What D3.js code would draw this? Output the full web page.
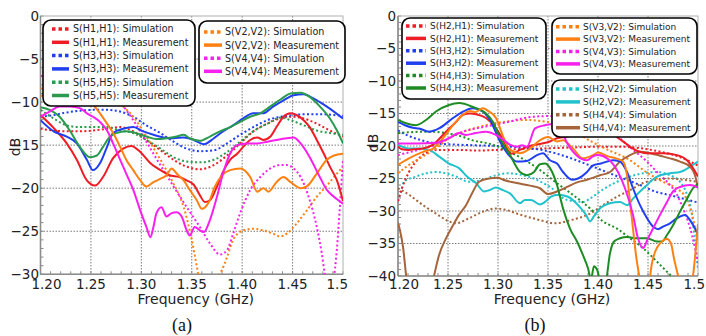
<!DOCTYPE html>
<html><head><meta charset="utf-8">
<script src="https://cdn.jsdelivr.net/npm/d3@7"></script>
<style>body{margin:0;background:#fff}svg{display:block}</style>
</head><body><svg id="c" width="706" height="336"></svg>
<script>
// ---------- tick labels ----------
const xTicks = [1.20, 1.25, 1.30, 1.35, 1.40, 1.45, 1.50];
const xTickLabels = ["1.20", "1.25", "1.30", "1.35", "1.40", "1.45", "1.5"];
const yTicksA = [0, -5, -10, -15, -20, -25, -30];
const yTicksB = [0, -5, -10, -15, -20, -25, -30, -35, -40];

// ---------- panel (a) data: [GHz, dB] ----------
const a_H1H1_sim = [[1.200,-13.1],[1.213,-13.3],[1.226,-13.4],[1.239,-13.4],[1.252,-13.3],[1.266,-13.1],[1.279,-12.9],[1.292,-13.4],[1.305,-14.4],[1.319,-15.6],[1.332,-16.7],[1.345,-17.5],[1.358,-17.8],[1.372,-17.3],[1.385,-16.2],[1.398,-14.8],[1.411,-13.4],[1.425,-12.5],[1.438,-11.9],[1.448,-11.7],[1.461,-11.9],[1.474,-12.5],[1.487,-13.3],[1.500,-14.0]];
const a_H1H1_meas = [[1.200,-11.5],[1.213,-13.0],[1.226,-14.8],[1.236,-16.7],[1.246,-19.1],[1.254,-19.7],[1.262,-18.7],[1.272,-16.5],[1.282,-15.4],[1.290,-15.1],[1.299,-15.8],[1.309,-17.1],[1.319,-17.9],[1.328,-18.5],[1.338,-18.7],[1.345,-19.1],[1.352,-19.6],[1.358,-20.8],[1.363,-21.6],[1.368,-21.4],[1.375,-19.8],[1.381,-18.1],[1.388,-16.7],[1.395,-16.0],[1.401,-15.2],[1.408,-14.4],[1.415,-14.1],[1.421,-14.4],[1.428,-14.0],[1.434,-12.9],[1.441,-11.7],[1.448,-11.3],[1.454,-11.5],[1.461,-12.1],[1.467,-12.9],[1.474,-14.4],[1.481,-16.0],[1.487,-17.5],[1.494,-19.1],[1.500,-21.5]];
const a_H3H3_sim = [[1.200,-11.7],[1.213,-11.5],[1.226,-11.2],[1.239,-11.0],[1.252,-10.9],[1.266,-10.9],[1.279,-11.1],[1.292,-11.7],[1.305,-12.7],[1.319,-13.6],[1.332,-14.6],[1.345,-15.4],[1.358,-15.7],[1.372,-15.6],[1.385,-14.8],[1.398,-13.8],[1.411,-12.9],[1.425,-12.1],[1.438,-11.7],[1.451,-11.5],[1.464,-11.4],[1.477,-11.4],[1.491,-11.5],[1.500,-11.6]];
const a_H3H3_meas = [[1.200,-12.1],[1.213,-13.4],[1.226,-14.0],[1.236,-14.8],[1.246,-16.7],[1.252,-17.9],[1.259,-17.1],[1.266,-15.2],[1.272,-13.6],[1.282,-13.1],[1.292,-12.9],[1.302,-13.4],[1.312,-13.8],[1.322,-14.1],[1.332,-14.2],[1.342,-14.1],[1.352,-14.4],[1.362,-14.9],[1.372,-14.2],[1.381,-13.4],[1.391,-12.7],[1.401,-11.9],[1.411,-11.3],[1.421,-11.3],[1.431,-10.5],[1.441,-9.8],[1.451,-9.2],[1.461,-9.1],[1.471,-9.6],[1.481,-10.3],[1.491,-11.1],[1.500,-11.9]];
const a_H5H5_sim = [[1.200,-10.9],[1.213,-11.9],[1.226,-12.7],[1.239,-12.9],[1.252,-12.9],[1.266,-12.9],[1.279,-13.3],[1.292,-13.6],[1.305,-14.4],[1.319,-15.4],[1.332,-16.4],[1.345,-16.9],[1.358,-17.0],[1.372,-16.7],[1.385,-15.8],[1.398,-14.6],[1.411,-13.4],[1.425,-12.5],[1.438,-11.8],[1.448,-12.1],[1.461,-12.7],[1.474,-13.3],[1.487,-13.6],[1.500,-13.8]];
const a_H5H5_meas = [[1.200,-10.6],[1.209,-10.9],[1.219,-11.7],[1.229,-13.3],[1.239,-15.2],[1.249,-16.4],[1.256,-16.2],[1.262,-15.2],[1.269,-14.0],[1.275,-13.6],[1.285,-13.4],[1.295,-13.6],[1.305,-14.0],[1.315,-14.3],[1.325,-14.2],[1.335,-14.0],[1.342,-13.8],[1.348,-14.2],[1.358,-14.5],[1.368,-14.0],[1.378,-13.4],[1.388,-12.9],[1.398,-12.3],[1.408,-11.7],[1.418,-11.3],[1.428,-10.5],[1.438,-9.7],[1.448,-9.0],[1.458,-8.9],[1.467,-9.4],[1.477,-10.5],[1.487,-11.9],[1.494,-13.3],[1.500,-14.8]];
const a_V2V2_sim = [[1.200,-8.5],[1.220,-7.5],[1.240,-7.5],[1.260,-8.5],[1.275,-9.8],[1.282,-10.5],[1.292,-11.7],[1.305,-14.0],[1.319,-16.7],[1.332,-19.5],[1.342,-22.2],[1.350,-26.0],[1.355,-29.1],[1.358,-31.0],[1.362,-33.0],[1.368,-33.0],[1.375,-30.5],[1.380,-29.5],[1.385,-28.0],[1.391,-26.0],[1.401,-24.9],[1.411,-24.7],[1.421,-24.9],[1.431,-25.3],[1.438,-25.6],[1.444,-25.3],[1.454,-24.1],[1.464,-22.6],[1.474,-21.0],[1.484,-19.7],[1.494,-18.3],[1.500,-17.5]];
const a_V2V2_meas = [[1.200,-9.3],[1.220,-8.7],[1.235,-9.0],[1.245,-9.7],[1.252,-10.3],[1.259,-11.3],[1.266,-12.5],[1.272,-13.6],[1.279,-15.2],[1.285,-16.7],[1.292,-17.9],[1.299,-19.1],[1.305,-19.8],[1.312,-19.3],[1.319,-18.9],[1.325,-18.5],[1.330,-17.7],[1.335,-18.3],[1.342,-19.1],[1.348,-20.2],[1.355,-21.4],[1.360,-22.4],[1.367,-21.6],[1.373,-19.8],[1.380,-18.5],[1.388,-17.9],[1.398,-17.7],[1.408,-18.7],[1.415,-20.4],[1.421,-20.0],[1.426,-20.4],[1.434,-19.3],[1.441,-18.7],[1.448,-19.3],[1.458,-20.0],[1.464,-19.8],[1.474,-18.3],[1.484,-16.7],[1.491,-16.2],[1.500,-16.0]];
const a_V4V4_sim = [[1.200,-7.0],[1.230,-6.5],[1.260,-8.0],[1.275,-9.7],[1.282,-10.5],[1.292,-12.1],[1.302,-14.0],[1.312,-16.0],[1.322,-17.9],[1.332,-19.8],[1.345,-22.2],[1.358,-24.5],[1.368,-26.4],[1.378,-27.7],[1.385,-27.2],[1.391,-25.3],[1.398,-22.9],[1.408,-20.2],[1.418,-18.7],[1.428,-17.7],[1.438,-17.3],[1.444,-17.3],[1.451,-17.7],[1.458,-18.7],[1.467,-21.4],[1.474,-24.5],[1.479,-27.6],[1.482,-30.0],[1.486,-32.0],[1.490,-31.0],[1.494,-27.0],[1.497,-22.0],[1.500,-16.7]];
const a_V4V4_meas = [[1.200,-11.7],[1.209,-11.1],[1.219,-10.5],[1.229,-10.5],[1.239,-10.7],[1.246,-11.3],[1.252,-11.7],[1.259,-12.3],[1.266,-13.3],[1.272,-14.8],[1.279,-16.7],[1.285,-18.3],[1.292,-20.2],[1.299,-22.6],[1.305,-24.5],[1.309,-25.7],[1.312,-24.5],[1.315,-22.9],[1.320,-22.2],[1.325,-23.3],[1.330,-22.9],[1.335,-22.8],[1.340,-23.3],[1.345,-24.9],[1.348,-25.5],[1.353,-24.5],[1.358,-24.9],[1.362,-25.1],[1.368,-23.7],[1.375,-21.0],[1.381,-18.3],[1.388,-16.0],[1.395,-15.0],[1.405,-14.8],[1.415,-14.8],[1.425,-14.6],[1.434,-14.4],[1.444,-14.2],[1.451,-14.1],[1.458,-14.8],[1.467,-16.4],[1.477,-18.7],[1.484,-20.2],[1.491,-21.0],[1.500,-21.8]];

// ---------- panel (b) data: [GHz, dB] ----------
const b_H2H1_sim = [[1.200,-28.5],[1.204,-26.5],[1.211,-24.0],[1.218,-22.4],[1.228,-21.1],[1.241,-20.6],[1.260,-20.6],[1.280,-20.7],[1.300,-20.6],[1.320,-20.5],[1.340,-20.4],[1.360,-20.3],[1.380,-20.2],[1.400,-20.1],[1.420,-20.1],[1.440,-20.3],[1.460,-20.8],[1.480,-21.6],[1.500,-23.0]];
const b_H2H1_meas = [[1.200,-20.1],[1.204,-20.5],[1.211,-20.6],[1.216,-20.5],[1.225,-20.4],[1.235,-19.8],[1.248,-17.8],[1.258,-16.3],[1.265,-15.2],[1.272,-15.0],[1.278,-15.1],[1.288,-15.7],[1.298,-17.3],[1.305,-19.0],[1.313,-21.2],[1.322,-20.6],[1.332,-20.0],[1.342,-19.7],[1.352,-19.3],[1.359,-18.8],[1.368,-18.6],[1.380,-18.2],[1.400,-17.8],[1.415,-18.3],[1.425,-19.3],[1.435,-20.4],[1.449,-21.1],[1.465,-21.1],[1.479,-21.4],[1.489,-22.2],[1.495,-23.4],[1.500,-24.7]];
const b_H3H2_sim = [[1.200,-17.6],[1.210,-18.4],[1.223,-19.1],[1.238,-19.6],[1.260,-19.8],[1.280,-19.9],[1.300,-20.0],[1.320,-20.2],[1.340,-20.5],[1.357,-21.1],[1.375,-22.0],[1.392,-23.0],[1.410,-24.1],[1.425,-25.0],[1.442,-26.0],[1.457,-27.0],[1.473,-27.6],[1.490,-28.3],[1.500,-28.7]];
const b_H3H2_meas = [[1.200,-16.3],[1.207,-16.8],[1.215,-17.2],[1.221,-17.3],[1.231,-17.8],[1.241,-17.3],[1.255,-15.7],[1.265,-14.7],[1.275,-14.2],[1.285,-14.7],[1.292,-16.0],[1.302,-19.3],[1.312,-21.6],[1.319,-22.4],[1.329,-22.3],[1.339,-21.4],[1.345,-21.1],[1.352,-22.2],[1.359,-22.7],[1.365,-24.0],[1.374,-25.2],[1.380,-25.0],[1.389,-24.0],[1.395,-23.0],[1.403,-22.7],[1.415,-22.2],[1.422,-22.4],[1.429,-24.0],[1.435,-26.5],[1.442,-29.1],[1.449,-31.1],[1.455,-32.4],[1.460,-32.8],[1.465,-32.4],[1.472,-31.9],[1.479,-31.1],[1.487,-30.6],[1.492,-31.4],[1.497,-32.7],[1.500,-33.7]];
const b_H4H3_sim = [[1.200,-18.0],[1.210,-17.9],[1.224,-17.8],[1.235,-17.8],[1.247,-18.0],[1.265,-18.6],[1.274,-19.1],[1.290,-19.6],[1.300,-20.1],[1.307,-20.6],[1.324,-21.9],[1.342,-23.7],[1.357,-25.5],[1.373,-27.3],[1.392,-29.6],[1.405,-31.6],[1.419,-32.7],[1.432,-34.2],[1.445,-35.7],[1.459,-37.8],[1.472,-39.8],[1.490,-42.5],[1.500,-44.0]];
const b_H4H3_meas = [[1.200,-16.0],[1.208,-16.5],[1.218,-16.8],[1.228,-16.0],[1.238,-14.7],[1.251,-13.7],[1.261,-13.4],[1.275,-14.0],[1.288,-15.0],[1.295,-16.3],[1.302,-18.8],[1.312,-21.4],[1.322,-24.0],[1.329,-24.5],[1.336,-24.0],[1.342,-22.8],[1.347,-22.7],[1.352,-23.4],[1.359,-26.0],[1.365,-29.6],[1.372,-32.7],[1.379,-34.7],[1.385,-36.8],[1.390,-38.8],[1.393,-40.5],[1.396,-38.5],[1.399,-39.0],[1.403,-41.0],[1.408,-40.5],[1.412,-36.5],[1.416,-34.7],[1.422,-34.2],[1.429,-34.0],[1.439,-34.2],[1.449,-34.2],[1.459,-34.7],[1.464,-34.7],[1.469,-33.7],[1.475,-32.2],[1.482,-30.1],[1.489,-28.1],[1.495,-26.5],[1.500,-25.8]];
const b_V3V2_sim = [[1.200,-24.2],[1.211,-22.9],[1.225,-21.6],[1.238,-20.4],[1.251,-18.8],[1.265,-17.8],[1.278,-17.2],[1.291,-16.7],[1.310,-16.2],[1.330,-16.0],[1.345,-16.2],[1.360,-16.6],[1.375,-17.6],[1.392,-19.2],[1.410,-20.6],[1.430,-22.0],[1.450,-24.2],[1.465,-25.5],[1.478,-26.5],[1.488,-28.0],[1.494,-30.5],[1.500,-35.0]];
const b_V3V2_meas = [[1.200,-22.9],[1.211,-21.9],[1.225,-20.9],[1.235,-20.4],[1.245,-18.8],[1.255,-16.8],[1.265,-15.2],[1.272,-14.6],[1.277,-14.8],[1.285,-14.2],[1.290,-14.6],[1.298,-15.7],[1.305,-18.5],[1.312,-20.6],[1.322,-21.1],[1.332,-20.4],[1.342,-19.1],[1.350,-18.6],[1.359,-19.3],[1.365,-19.1],[1.375,-20.4],[1.385,-21.9],[1.395,-21.4],[1.400,-21.0],[1.410,-21.6],[1.418,-21.9],[1.425,-22.4],[1.429,-24.5],[1.432,-28.6],[1.435,-32.7],[1.438,-36.8],[1.441,-39.8],[1.445,-43.0],[1.450,-42.0],[1.454,-38.0],[1.457,-36.3],[1.462,-35.0],[1.469,-34.3],[1.473,-35.0],[1.476,-37.3],[1.480,-40.0],[1.485,-44.0],[1.490,-44.0],[1.495,-40.0],[1.500,-32.0]];
const b_V4V3_sim = [[1.200,-21.4],[1.213,-20.9],[1.225,-20.4],[1.238,-19.8],[1.251,-18.8],[1.265,-17.8],[1.278,-17.3],[1.295,-16.8],[1.310,-16.3],[1.330,-15.6],[1.350,-15.4],[1.370,-15.6],[1.390,-16.5],[1.410,-17.8],[1.422,-18.8],[1.429,-19.8],[1.439,-21.1],[1.449,-22.4],[1.459,-24.0],[1.469,-25.5],[1.479,-27.5],[1.485,-29.6],[1.490,-31.6],[1.494,-33.7],[1.497,-35.7],[1.500,-38.0]];
const b_V4V3_meas = [[1.200,-19.6],[1.220,-19.6],[1.238,-19.5],[1.251,-18.8],[1.261,-18.0],[1.268,-18.3],[1.278,-18.0],[1.288,-17.8],[1.298,-18.3],[1.305,-19.0],[1.312,-19.8],[1.319,-20.1],[1.324,-19.9],[1.329,-20.1],[1.337,-17.3],[1.347,-16.8],[1.355,-16.6],[1.362,-17.2],[1.369,-19.5],[1.379,-21.5],[1.389,-22.2],[1.395,-21.6],[1.400,-21.4],[1.410,-22.0],[1.420,-24.0],[1.427,-26.5],[1.435,-30.6],[1.440,-34.2],[1.445,-35.7],[1.450,-34.2],[1.455,-32.7],[1.462,-30.6],[1.469,-28.6],[1.475,-27.0],[1.482,-26.3],[1.492,-26.0],[1.500,-26.4]];
const b_H2V2_sim = [[1.200,-28.5],[1.203,-27.0],[1.206,-25.5],[1.218,-24.7],[1.228,-24.2],[1.238,-24.0],[1.248,-24.2],[1.258,-24.7],[1.271,-25.5],[1.285,-25.2],[1.298,-24.5],[1.310,-24.2],[1.330,-24.7],[1.352,-26.3],[1.369,-28.3],[1.385,-28.6],[1.392,-28.1],[1.402,-27.0],[1.419,-25.5],[1.432,-24.7],[1.445,-24.2],[1.459,-24.0],[1.472,-24.5],[1.482,-25.5],[1.489,-27.5],[1.494,-30.6],[1.497,-34.7],[1.500,-39.0]];
const b_H2V2_meas = [[1.200,-19.8],[1.211,-20.4],[1.220,-20.4],[1.231,-20.6],[1.241,-21.6],[1.251,-22.7],[1.261,-23.4],[1.269,-24.7],[1.278,-25.7],[1.286,-27.0],[1.291,-26.8],[1.298,-26.4],[1.305,-26.8],[1.312,-27.3],[1.322,-28.8],[1.327,-28.3],[1.333,-28.3],[1.342,-29.0],[1.347,-28.6],[1.353,-27.8],[1.360,-27.5],[1.370,-27.8],[1.377,-28.6],[1.383,-29.6],[1.388,-30.6],[1.392,-31.6],[1.396,-30.8],[1.402,-29.6],[1.412,-28.8],[1.422,-28.6],[1.429,-29.1],[1.435,-28.1],[1.442,-27.0],[1.449,-26.0],[1.459,-24.7],[1.472,-24.2],[1.482,-24.0],[1.492,-23.2],[1.500,-22.4]];
const b_H4V4_sim = [[1.200,-26.5],[1.211,-27.5],[1.225,-29.1],[1.238,-30.4],[1.251,-31.6],[1.258,-31.9],[1.271,-31.1],[1.285,-30.1],[1.298,-29.6],[1.307,-29.8],[1.323,-30.6],[1.342,-31.4],[1.357,-31.9],[1.373,-31.4],[1.392,-30.4],[1.405,-29.1],[1.419,-27.8],[1.432,-26.8],[1.445,-25.7],[1.459,-25.2],[1.472,-25.0],[1.485,-25.2],[1.500,-25.5]];
const b_H4V4_meas = [[1.200,-31.8],[1.202,-33.0],[1.205,-35.5],[1.208,-39.8],[1.211,-44.0],[1.230,-44.0],[1.236,-40.0],[1.241,-36.8],[1.248,-34.2],[1.255,-32.2],[1.261,-30.6],[1.268,-29.1],[1.275,-27.0],[1.281,-25.5],[1.291,-25.0],[1.300,-24.9],[1.305,-25.2],[1.319,-25.7],[1.332,-26.1],[1.342,-26.5],[1.350,-27.4],[1.359,-27.0],[1.369,-26.3],[1.379,-25.6],[1.389,-25.2],[1.402,-24.5],[1.412,-24.0],[1.422,-22.4],[1.432,-21.4],[1.442,-20.9],[1.452,-21.1],[1.462,-21.5],[1.472,-21.9],[1.482,-22.4],[1.492,-23.2],[1.497,-24.5],[1.500,-26.5]];

// ---------- legend labels ----------
const legendA1 = ["S(H1,H1): Simulation","S(H1,H1): Measurement","S(H3,H3): Simulation","S(H3,H3): Measurement","S(H5,H5): Simulation","S(H5,H5): Measurement"];
const legendA2 = ["S(V2,V2): Simulation","S(V2,V2): Measurement","S(V4,V4): Simulation","S(V4,V4): Measurement"];
const legendB1 = ["S(H2,H1): Simulation","S(H2,H1): Measurement","S(H3,H2): Simulation","S(H3,H2): Measurement","S(H4,H3): Simulation","S(H4,H3): Measurement"];
const legendB2 = ["S(V3,V2): Simulation","S(V3,V2): Measurement","S(V4,V3): Simulation","S(V4,V3): Measurement"];
const legendB3 = ["S(H2,V2): Simulation","S(H2,V2): Measurement","S(H4,V4): Simulation","S(H4,V4): Measurement"];

// ---------- styling ----------
const C = {red:"#ee1c24", blue:"#1f3ff0", greenA:"#2a9a4e", greenB:"#1e8c24", orange:"#ff8012", magenta:"#f820ec", cyan:"#22c2cc", brown:"#a5643a"};
const FONT = "'DejaVu Sans', Verdana, sans-serif";

const svg = d3.select("#c");

function panel(cfg) {
  const x = d3.scaleLinear().domain([1.2, 1.5]).range(cfg.xr);
  const y = d3.scaleLinear().domain(cfg.yd).range(cfg.yr);
  const g = svg.append("g");
  const [x0, x1] = cfg.xr, [y0, y1] = cfg.yr;

  // minor ticks
  const minorX = d3.range(0, 31).map(i => 1.2 + i * 0.01);
  const minorY = d3.range(cfg.yd[1], 1, 1);
  g.append("g").selectAll("line").data(minorX).join("line")
    .attr("x1", d => x(d)).attr("x2", d => x(d)).attr("y1", y1).attr("y2", y1 - 3)
    .attr("stroke", "#888").attr("stroke-width", 1);
  g.append("g").selectAll("line").data(minorY).join("line")
    .attr("x1", x0).attr("x2", x0 + 3).attr("y1", d => y(d)).attr("y2", d => y(d))
    .attr("stroke", "#888").attr("stroke-width", 1);

  // grid
  g.append("g").selectAll("line").data(xTicks.slice(1, -1)).join("line")
    .attr("x1", d => x(d)).attr("x2", d => x(d)).attr("y1", y0).attr("y2", y1)
    .attr("stroke", "#7a7a7a").attr("stroke-width", 1).attr("stroke-dasharray", "1.5,1.5");
  g.append("g").selectAll("line").data(cfg.yt.slice(1, -1)).join("line")
    .attr("x1", x0).attr("x2", x1).attr("y1", d => y(d)).attr("y2", d => y(d))
    .attr("stroke", "#7a7a7a").attr("stroke-width", 1).attr("stroke-dasharray", "1.5,1.5");

  // frame
  g.append("rect").attr("x", x0).attr("y", y0).attr("width", x1 - x0).attr("height", y1 - y0)
    .attr("fill", "none").attr("stroke", "#b0b0b0").attr("stroke-width", 1);
  g.append("line").attr("x1", x0).attr("x2", x0).attr("y1", y0).attr("y2", y1).attr("stroke", "#8c8c8c").attr("stroke-width", 1.6);
  g.append("line").attr("x1", x0).attr("x2", x1).attr("y1", y1).attr("y2", y1).attr("stroke", "#8c8c8c").attr("stroke-width", 1.6);

  // clip
  const cid = "clip" + cfg.id;
  svg.append("defs").append("clipPath").attr("id", cid).append("rect")
    .attr("x", x0).attr("y", y0).attr("width", x1 - x0).attr("height", y1 - y0);

  const line = d3.line().x(d => x(d[0])).y(d => y(d[1])).curve(d3.curveMonotoneX);
  const lg = g.append("g").attr("clip-path", `url(#${cid})`);
  const order = cfg.series.filter(s => s.dash).concat(cfg.series.filter(s => !s.dash));
  lg.selectAll("path").data(order).join("path")
    .attr("d", s => line(s.data)).attr("fill", "none")
    .attr("stroke", s => s.color).attr("stroke-width", 2)
    .attr("stroke-dasharray", s => s.dash ? "2,2.4" : null)
    .attr("stroke-linejoin", "round");

  // tick labels
  g.append("g").selectAll("text").data(cfg.yt).join("text")
    .attr("x", cfg.ylabX).attr("y", d => y(d)).attr("dy", "0.36em")
    .attr("text-anchor", "end").attr("font-family", FONT).attr("font-size", 13.5).attr("fill", "#222")
    .text(d => d3.format("d")(d));
  const n = xTicks.length;
  g.append("g").selectAll("text").data(xTicks).join("text")
    .attr("x", (d, i) => i === 0 ? x(d) + 6 : (i === n - 1 ? cfg.lastX : x(d)))
    .attr("y", 289)
    .attr("text-anchor", (d, i) => i === n - 1 ? "end" : "middle")
    .attr("font-family", FONT).attr("font-size", 13.5).attr("fill", "#222")
    .text((d, i) => xTickLabels[i]);

  // titles
  g.append("text").attr("x", (x0 + x1) / 2 + 4).attr("y", 304).attr("text-anchor", "middle")
    .attr("font-family", FONT).attr("font-size", 14).attr("fill", "#222").text("Frequency (GHz)");
  g.append("text").attr("transform", `translate(${cfg.dbX},${cfg.dbY}) rotate(-90)`).attr("text-anchor", "middle")
    .attr("dy", "0.36em").attr("font-family", FONT).attr("font-size", 14).attr("fill", "#222").text("dB");
  g.append("text").attr("x", cfg.capX).attr("y", 331).attr("text-anchor", "middle")
    .attr("font-family", "'Liberation Serif', 'Times New Roman', serif").attr("font-size", 18).attr("fill", "#111").text(cfg.cap);

  // legends
  cfg.legends.forEach(L => {
    const lgd = g.append("g");
    lgd.append("rect").attr("x", L.x).attr("y", L.y).attr("width", L.w).attr("height", L.h)
      .attr("rx", 8).attr("ry", 8).attr("fill", "#fff").attr("stroke", "#000").attr("stroke-width", 1.6);
    L.items.forEach((s, i) => {
      const ry = L.r0 + i * L.step;
      lgd.append("line").attr("x1", L.s0).attr("x2", L.s1).attr("y1", ry).attr("y2", ry)
        .attr("stroke", s.color).attr("stroke-width", 3.5).attr("stroke-dasharray", s.dash ? "3.5,3" : null);
      lgd.append("text").attr("x", L.tx).attr("y", ry).attr("dy", "0.36em")
        .attr("font-family", FONT).attr("font-size", L.fs).attr("fill", "#222").text(s.label);
    });
  });
}

function mk(labels, datas, colors) {
  return labels.map((lab, i) => ({label: lab, data: datas[i], color: colors[i], dash: i % 2 === 0}));
}

const sA1 = mk(legendA1, [a_H1H1_sim, a_H1H1_meas, a_H3H3_sim, a_H3H3_meas, a_H5H5_sim, a_H5H5_meas],
  [C.red, C.red, C.blue, C.blue, C.greenA, C.greenA]);
const sA2 = mk(legendA2, [a_V2V2_sim, a_V2V2_meas, a_V4V4_sim, a_V4V4_meas],
  [C.orange, C.orange, C.magenta, C.magenta]);
const sB1 = mk(legendB1, [b_H2H1_sim, b_H2H1_meas, b_H3H2_sim, b_H3H2_meas, b_H4H3_sim, b_H4H3_meas],
  [C.red, C.red, C.blue, C.blue, C.greenB, C.greenB]);
const sB2 = mk(legendB2, [b_V3V2_sim, b_V3V2_meas, b_V4V3_sim, b_V4V3_meas],
  [C.orange, C.orange, C.magenta, C.magenta]);
const sB3 = mk(legendB3, [b_H2V2_sim, b_H2V2_meas, b_H4V4_sim, b_H4V4_meas],
  [C.cyan, C.cyan, C.brown, C.brown]);

panel({
  id: "a", xr: [40.5, 343], yr: [16, 274.3], yd: [0, -30], yt: yTicksA,
  ylabX: 39, dbX: 15, dbY: 147, capX: 182, cap: "(a)", lastX: 348,
  series: sA1.concat(sA2),
  legends: [
    {x: 43, y: 20, w: 152, h: 86, r0: 29, step: 13.3, s0: 52, s1: 69, tx: 73, fs: 9.6, items: sA1},
    {x: 199, y: 21, w: 146, h: 62, r0: 32, step: 13.1, s0: 204, s1: 222, tx: 225, fs: 9.6, items: sA2}
  ]
});
panel({
  id: "b", xr: [398, 698], yr: [16, 276], yd: [0, -40], yt: yTicksB,
  ylabX: 396, dbX: 373, dbY: 143, capX: 535, cap: "(b)", lastX: 705,
  series: sB3.concat(sB1).concat(sB2),
  legends: [
    {x: 402, y: 18, w: 144, h: 81, r0: 26, step: 12.4, s0: 406, s1: 426, tx: 430, fs: 9, items: sB1},
    {x: 552, y: 18, w: 145, h: 56, r0: 26.7, step: 12.4, s0: 556, s1: 580, tx: 583, fs: 9, items: sB2},
    {x: 552, y: 80, w: 145, h: 57, r0: 89, step: 12.9, s0: 556, s1: 580, tx: 583, fs: 9, items: sB3}
  ]
});
</script></body></html>
